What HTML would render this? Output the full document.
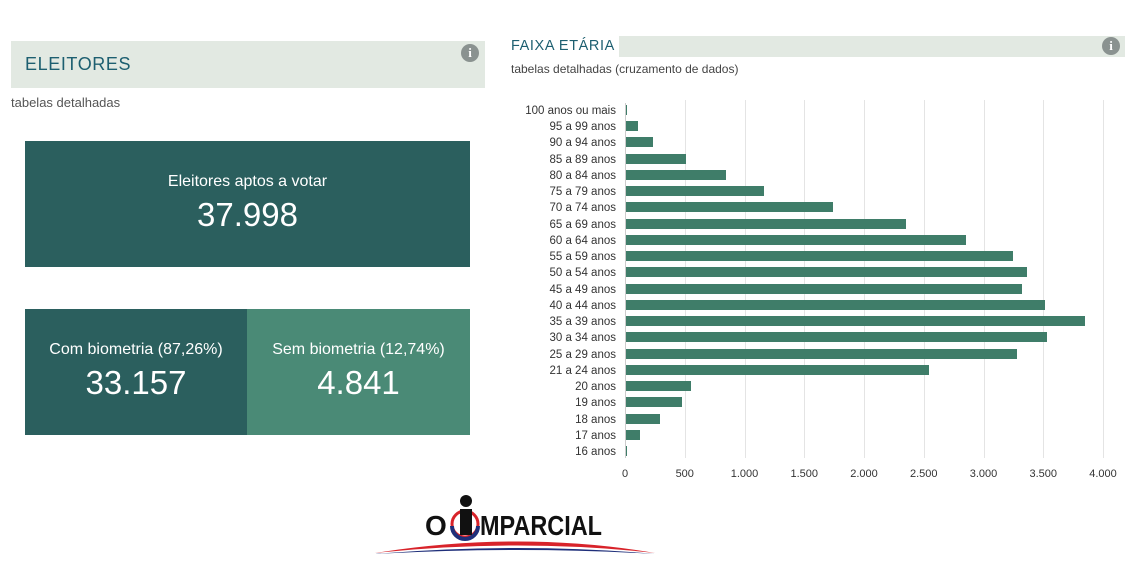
<!DOCTYPE html>
<html><head><meta charset="utf-8"><style>
body{margin:0;width:1146px;height:570px;background:#fff;font-family:"Liberation Sans",sans-serif;position:relative;overflow:hidden}
.a{position:absolute}
.info{position:absolute;width:18px;height:18px;border-radius:50%;background:#8a9290;color:#fff;font:bold 13px "Liberation Serif",serif;text-align:center;line-height:18px}
.box{position:absolute;color:#fff;text-align:center}
.box .l{font-size:16px;margin-top:32px}
.box .n{font-size:33px;margin-top:5px}
.lab{position:absolute;right:530px;font-size:11.5px;color:#333;text-align:right;white-space:nowrap}
.bar{position:absolute;left:625px;height:10px;background:#3f7d69}
.g{position:absolute;top:100px;height:358px;width:1px;background:#e4e4e4}
.t{position:absolute;top:468px;font-size:11px;color:#333;width:60px;text-align:center}
</style></head><body>
<div class="a" style="left:11px;top:41px;width:474px;height:47px;background:#e2e9e2"></div>
<div class="a" style="left:25px;top:54px;font-size:18px;color:#1d5f70;letter-spacing:0.6px">ELEITORES</div>
<div class="info" style="left:461px;top:44px">i</div>
<div class="a" style="left:11px;top:95px;font-size:13px;color:#555">tabelas detalhadas</div>
<div class="box" style="left:25px;top:141px;width:445px;height:126px;background:#2b5f5e"><div class="l">Eleitores aptos a votar</div><div class="n">37.998</div></div>
<div class="box" style="left:25px;top:309px;width:222px;height:126px;background:#2b5f5e"><div class="l">Com biometria (87,26%)</div><div class="n">33.157</div></div>
<div class="box" style="left:247px;top:309px;width:223px;height:126px;background:#4a8a76"><div class="l">Sem biometria (12,74%)</div><div class="n">4.841</div></div>

<div class="a" style="left:619px;top:36px;width:506px;height:21px;background:#e2e9e2"></div>
<div class="a" style="left:511px;top:38px;font-size:14.5px;color:#1d5f70;letter-spacing:0.6px">FAIXA ETÁRIA</div>
<div class="info" style="left:1102px;top:37px">i</div>
<div class="a" style="left:511px;top:62px;font-size:12px;color:#444">tabelas detalhadas (cruzamento de dados)</div>

<div id="c"></div>
<div class="a" style="left:625px;top:103px;width:1px;height:355px;background:#ccc"></div>

<svg class="a" style="left:370px;top:490px" width="290" height="75" viewBox="0 0 290 75">
<path d="M5 63 Q150 40 285 63 Q150 48 5 63Z" fill="#d8232a"/>
<path d="M5 64 Q150 52 285 64 Q150 56 5 64Z" fill="#1f2f7a"/>
<text x="55" y="45" font-family="Liberation Sans" font-weight="bold" font-size="28" fill="#111">O</text>
<circle cx="95" cy="34" r="13" fill="none" stroke="#d8232a" stroke-width="3"/>
<path d="M82 36 A13 13 0 0 0 108 36" fill="none" stroke="#1f2f7a" stroke-width="4"/>
<circle cx="96" cy="11" r="6" fill="#111"/>
<rect x="90" y="19" width="12" height="26" fill="#111"/>
<text x="110" y="45" font-family="Liberation Sans" font-weight="bold" font-size="28" fill="#111" textLength="122" lengthAdjust="spacingAndGlyphs">MPARCIAL</text>
</svg>
<script>
var L=["100 anos ou mais","95 a 99 anos","90 a 94 anos","85 a 89 anos","80 a 84 anos","75 a 79 anos","70 a 74 anos","65 a 69 anos","60 a 64 anos","55 a 59 anos","50 a 54 anos","45 a 49 anos","40 a 44 anos","35 a 39 anos","30 a 34 anos","25 a 29 anos","21 a 24 anos","20 anos","19 anos","18 anos","17 anos","16 anos"];
var E=[627,638,653,686,726,764,833,906,966,1013,1027,1022,1045,1085,1047,1017,929,691,682,660,640,627];
var h="";
for(var i=0;i<=8;i++){var x=625+i*59.75;if(i>0)h+='<div class="g" style="left:'+x+'px"></div>';h+='<div class="t" style="left:'+(x-30)+'px">'+(i*500).toLocaleString("de-DE")+'</div>';}
for(var i=0;i<22;i++){var y=110+i*16.24;h+='<div class="lab" style="top:'+(y-5)+'px">'+L[i]+'</div><div class="bar" style="top:'+(y-5)+'px;width:'+(E[i]-625)+'px"></div>';}
document.getElementById("c").innerHTML=h;
</script>
</body></html>
